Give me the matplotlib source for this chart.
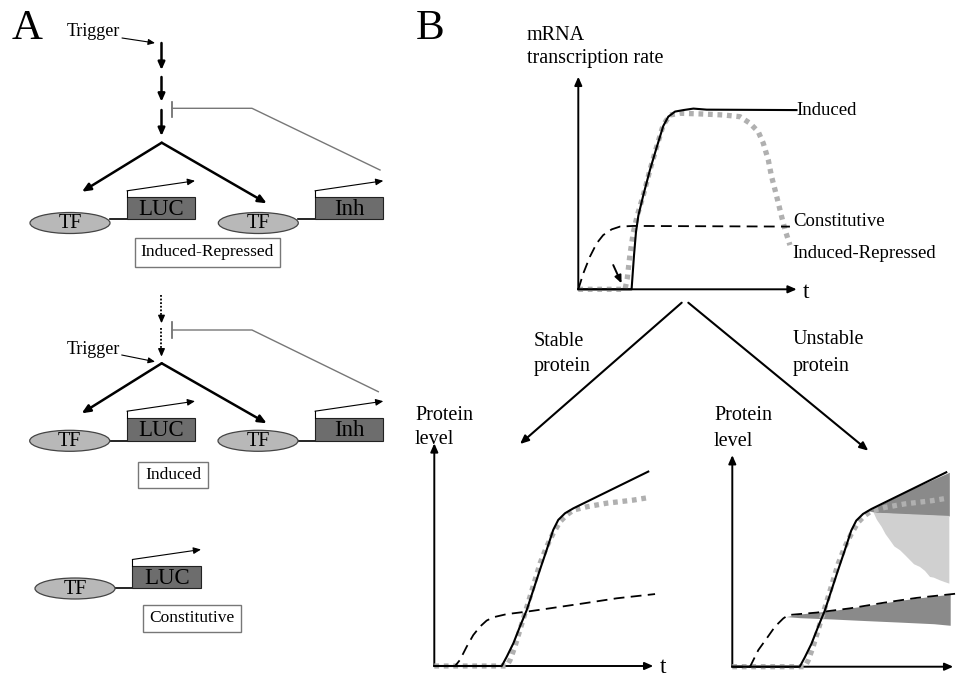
import matplotlib
matplotlib.use("Agg")
import matplotlib.pyplot as plt
import numpy as np
from matplotlib.patches import Ellipse, Rectangle

plt.rcParams['font.family'] = ['Liberation Serif', 'DejaVu Serif']

W, H = 958, 677

# panel B top: mRNA transcription rate (t and level on a 0-10 scale)
ind_mrna_t = [0, 2.44, 2.55, 2.64, 2.75, 2.98, 3.28, 3.59, 3.89, 4.12, 4.43, 4.81, 5.27, 5.88, 9.99]
ind_mrna_y = [0, 0, 1.59, 2.68, 3.47, 4.44, 5.61, 6.68, 7.68, 8.12, 8.36, 8.43, 8.5, 8.45, 8.43]
ir_mrna_t = [0, 2.14, 2.24, 2.36, 2.52, 2.7, 2.98, 3.28, 3.59, 3.89, 4.2, 4.66, 5.57, 6.64, 7.4,
             7.86, 8.24, 8.47, 8.7, 8.85, 9.01, 9.16, 9.31, 9.47, 9.69]
ir_mrna_y = [0, 0, 0.5, 1.59, 2.68, 3.47, 4.44, 5.61, 6.71, 7.73, 8.2, 8.28, 8.25, 8.2, 8.12,
             7.81, 7.41, 6.87, 6.08, 5.3, 4.67, 4.05, 3.42, 2.79, 2.08]
con_mrna_t = [0, 0.23, 0.53, 0.84, 1.14, 1.53, 1.91, 2.52, 9.69]
con_mrna_y = [0, 0.75, 1.53, 2.16, 2.55, 2.82, 2.95, 2.98, 2.95]

# panel B bottom: protein level
ind_prot_t = [0, 3.08, 3.31, 3.61, 3.91, 4.22, 4.52, 4.82, 5.13, 5.43, 5.66, 5.97, 6.35, 9.77]
ind_prot_y = [0, 0, 0.42, 1.02, 1.77, 2.51, 3.41, 4.31, 5.21, 6.11, 6.56, 6.86, 7.08, 8.73]
ir_prot_t = [0, 3.31, 3.46, 3.68, 3.91, 4.14, 4.37, 4.6, 4.83, 5.13, 5.43, 5.74, 6.04, 6.35,
             6.96, 7.87, 9.09, 9.77]
ir_prot_y = [0, 0, 0.27, 0.87, 1.62, 2.37, 3.11, 3.86, 4.61, 5.36, 5.96, 6.48, 6.78, 7.0,
             7.15, 7.31, 7.45, 7.56]
con_prot_t = [0, 0.95, 1.17, 1.48, 1.78, 2.09, 2.39, 2.7, 3.31, 4.22, 5.28, 6.8, 8.33, 10.08]
con_prot_y = [0, 0, 0.27, 0.87, 1.39, 1.77, 2.04, 2.19, 2.33, 2.44, 2.59, 2.81, 3.04, 3.23]
con_unst_t = [0, 0.81, 1.19, 1.57, 1.95, 2.33, 2.56, 3.85, 5.37, 6.9, 8.42, 10.32]
con_unst_y = [0, 0, 0.75, 1.27, 1.8, 2.17, 2.32, 2.43, 2.62, 2.87, 3.09, 3.29]

# shaded spread for unstable protein
hi_t = [6.2, 6.6, 7.5, 8.5, 9.91]
hi_bot = [7.0, 6.92, 6.87, 6.82, 6.77]
light_t = [6.45, 9.91, 9.91, 9.7, 9.48, 9.2, 9.03, 8.8, 8.57, 8.3, 8.12, 7.9, 7.66, 7.4, 7.2, 7.0, 6.82, 6.6]
light_y = [6.92, 6.77, 3.73, 3.8, 3.88, 4.0, 4.03, 4.3, 4.48, 4.6, 4.78, 5.0, 5.23, 5.4, 5.68, 5.95, 6.28, 6.6]
lo_t = [2.45, 3.1, 4.6, 6.1, 7.7, 9.2, 9.95]
lo_bot = [2.25, 2.2, 2.14, 2.07, 2.0, 1.93, 1.86]

GREY = '#b0b0b0'
fig = plt.figure(figsize=(W / 100, H / 100), dpi=100)
cv = fig.add_axes([0, 0, 1, 1])
cv.set_xlim(0, W)
cv.set_ylim(H, 0)
cv.axis('off')


def arrow(ax, start, tip, lw=2.0, ms=10, color='k', ls='-'):
    ax.annotate('', xy=tip, xytext=start, annotation_clip=False,
                arrowprops=dict(arrowstyle='-|>,head_length=0.5,head_width=0.22', lw=lw, color=color,
                                mutation_scale=ms, shrinkA=0, shrinkB=0, linestyle=ls))


def gene(cx, cy, bx0, bx1, by0, by1, name):
    cv.add_patch(Ellipse((cx, cy), 80, 21, fc='#b8b8b8', ec='#444444', lw=0.9, zorder=2))
    cv.text(cx, cy + 1, 'TF', ha='center', va='center', fontsize=14.5, zorder=3)
    cv.plot([cx + 40, bx0], [by1, by1], color='k', lw=1.2, zorder=1)
    cv.add_patch(Rectangle((bx0, by0), bx1 - bx0, by1 - by0, fc='#6d6d6d', ec='#222222', lw=0.8, zorder=2))
    cv.text((bx0 + bx1) / 2, (by0 + by1) / 2 + 1, name, ha='center', va='center', fontsize=16.5, zorder=3)
    cv.plot([bx0, bx0], [by0, by0 - 6.5], color='k', lw=0.8)
    arrow(cv, (bx0, by0 - 6.5), (bx1, by0 - 16.5), lw=0.8, ms=9)


def label_box(x0, y0, x1, y1, s):
    cv.add_patch(Rectangle((x0, y0), x1 - x0, y1 - y0, fc='white', ec='#777777', lw=1.0))
    cv.text((x0 + x1) / 2, (y0 + y1) / 2, s, ha='center', va='center', fontsize=12.5)


def inhibit(ybar0, ybar1, yh, tip):
    cv.plot([172, 172], [ybar0, ybar1], color='#666666', lw=1.2)
    cv.plot([172, 252, tip[0]], [yh, yh, tip[1]], color='#777777', lw=1.0)


# ---- panel A ----
cv.text(12, 29, 'A', fontsize=31, va='center', ha='left')
cv.text(67, 32, 'Trigger', fontsize=13, va='center')
arrow(cv, (122, 38), (155, 43), lw=0.8, ms=8)
for y0, y1 in [(43, 70), (77, 101.7), (110, 136)]:
    arrow(cv, (161.5, y0), (161.5, y1), lw=1.8, ms=9)
inhibit(101.7, 116.7, 108.3, (380, 170))
arrow(cv, (161.7, 142.7), (82, 191.7), lw=1.8, ms=10)
arrow(cv, (161.7, 142.7), (266.7, 203.3), lw=1.8, ms=10)
gene(70, 223, 127, 195, 197.3, 219.3, 'LUC')
gene(258.3, 223, 315, 383.3, 197.3, 219.3, 'Inh')
label_box(135, 238.3, 280, 266.7, 'Induced-Repressed')

for y0, y1 in [(295, 323.3), (328.3, 356.7)]:
    cv.plot([161.5, 161.5], [y0, y1 - 4], color='k', lw=1.3, ls=(0, (1, 1)))
    arrow(cv, (161.5, y1 - 5), (161.5, y1), lw=1.0, ms=9)
inhibit(321.7, 338.3, 330, (378.3, 391.7))
cv.text(66.7, 349, 'Trigger', fontsize=13, va='center')
arrow(cv, (121.7, 355), (155, 361.7), lw=0.8, ms=8)
arrow(cv, (161.7, 363.3), (81.7, 413.3), lw=1.8, ms=10)
arrow(cv, (161.7, 363.3), (266.7, 423.3), lw=1.8, ms=10)
gene(69.7, 440.8, 127, 195, 417.7, 441, 'LUC')
gene(258, 440.8, 315, 383.3, 417.7, 441, 'Inh')
label_box(138.3, 461.7, 208.3, 488.3, 'Induced')

gene(75, 588.5, 132.3, 201, 566, 588.3, 'LUC')
label_box(142.7, 605, 240.7, 631.7, 'Constitutive')

# ---- panel B ----
cv.text(416, 29, 'B', fontsize=31, va='center', ha='left')
cv.text(527, 35, 'mRNA', fontsize=14.5, va='center')
cv.text(527, 59, 'transcription rate', fontsize=14.5, va='center')
arrow(cv, (681.7, 302.7), (520, 444), lw=1.5, ms=10)
arrow(cv, (688.3, 302.7), (868.3, 450.7), lw=1.5, ms=10)
cv.text(533.3, 341, 'Stable', fontsize=14.5, va='center')
cv.text(533.3, 366, 'protein', fontsize=14.5, va='center')
cv.text(792.7, 340, 'Unstable', fontsize=14.5, va='center')
cv.text(792.7, 366, 'protein', fontsize=14.5, va='center')
cv.text(415, 415, 'Protein', fontsize=14.5, va='center')
cv.text(415, 440, 'level', fontsize=14.5, va='center')
cv.text(714, 415, 'Protein', fontsize=14.5, va='center')
cv.text(714, 441, 'level', fontsize=14.5, va='center')


def chart(left, bottom, width, height, xend=10.0, yend=10.0, tlabel=None):
    ax = fig.add_axes([left / W, 1 - bottom / H, width / W, height / H])
    ax.set_xlim(0, 10)
    ax.set_ylim(0, 10)
    ax.axis('off')
    ax.patch.set_alpha(0)
    arrow(ax, (0, 0), (xend, 0), lw=1.4, ms=10)
    arrow(ax, (0, 0), (0, yend), lw=1.4, ms=10)
    if tlabel:
        ax.text(tlabel[0], tlabel[1], 't', fontsize=17, va='center', ha='left')
    return ax


def curves(ax, it, iy, rt, ry, ct, cy):
    ax.plot(rt, ry, color=GREY, lw=3.8, ls=(0, (0.9, 0.9)), solid_capstyle='butt',
            dash_capstyle='butt', clip_on=False, zorder=3)
    ax.plot(it, iy, color='k', lw=1.5, clip_on=False, zorder=4)
    ax.plot(ct, cy, color='k', lw=1.3, ls=(0, (6, 3.5)), clip_on=False, zorder=5)


top = chart(578.3, 289.3, 218.4, 212.6, tlabel=(10.3, -0.15))
curves(top, ind_mrna_t, ind_mrna_y, ir_mrna_t, ir_mrna_y, con_mrna_t, con_mrna_y)
arrow(top, (1.6, 1.14), (1.98, 0.28), lw=1.4, ms=9)
top.text(10.0, 8.43, 'Induced', fontsize=13.5, va='center', ha='left')
top.text(9.82, 3.18, 'Constitutive', fontsize=13.5, va='center', ha='left')
top.text(9.82, 1.69, 'Induced-Repressed', fontsize=13.5, va='center', ha='left')

stable = chart(434.3, 666, 219, 222.7, tlabel=(10.3, -0.05))
curves(stable, ind_prot_t, ind_prot_y, ir_prot_t, ir_prot_y, con_prot_t, con_prot_y)

unstable = chart(732.3, 666.7, 219, 222.7, xend=10.09, yend=9.5)
unstable.fill_between(hi_t, np.interp(hi_t, ind_prot_t, ind_prot_y), hi_bot,
                      color='#8a8a8a', lw=0, zorder=1)
unstable.fill(light_t, light_y, color='#d0d0d0', lw=0, zorder=1)
unstable.fill_between(lo_t, np.interp(lo_t, con_unst_t, con_unst_y), lo_bot,
                      color='#8a8a8a', lw=0, zorder=1)
curves(unstable, ind_prot_t, ind_prot_y, ir_prot_t, ir_prot_y, con_unst_t, con_unst_y)

fig.savefig('out.png', dpi=100)
